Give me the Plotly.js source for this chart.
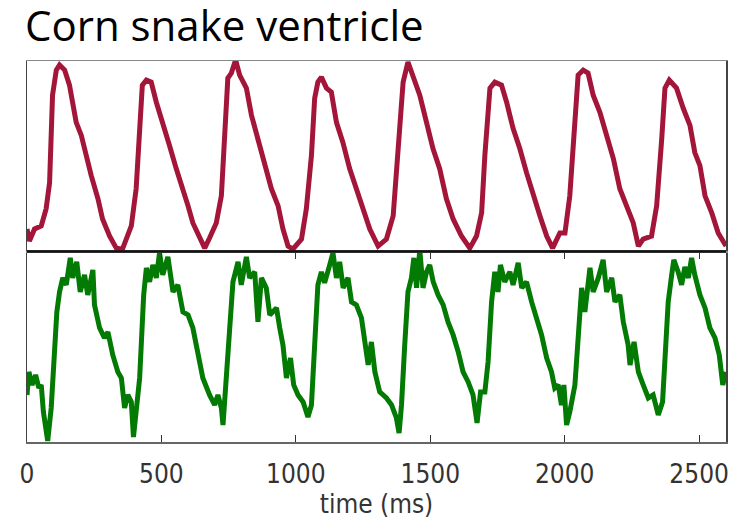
<!DOCTYPE html>
<html>
<head>
<meta charset="utf-8">
<script src="https://cdn.plot.ly/plotly-3.0.1.min.js"></script>
<style>html,body{margin:0;padding:0;background:#fff;}#chart{width:746px;height:519px;}</style>
</head>
<body>
<div id="chart"></div>
<script>
// Red trace (top panel), time in ms and relative amplitude
const redTime = [0,9,28,53,71,84,95,109,121,140,158,169,183,202,220,239,264,281,307,332,355,369,388,406,419,429,444,462,481,505,530,555,580,599,617,642,661,679,704,723,735,747,760,776,791,816,835,859,884,909,934,952,971,989,1021,1039,1058,1070,1082,1095,1114,1132,1151,1175,1200,1225,1250,1275,1306,1337,1362,1380,1399,1417,1436,1461,1486,1510,1535,1560,1585,1616,1647,1672,1691,1703,1722,1740,1765,1784,1808,1833,1858,1883,1908,1933,1955,1982,2001,2019,2032,2050,2069,2087,2106,2131,2156,2181,2205,2230,2255,2274,2292,2323,2342,2361,2373,2389,2416,2441,2466,2484,2503,2522,2547,2571,2600];
const redValue = [22,10,22,25,42,68,155,180,185,180,165,148,128,115,95,75,52,32,15,3,2,12,25,62,128,165,170,168,148,128,105,82,62,45,28,12,3,13,28,55,112,172,177,190,175,162,135,112,88,62,45,22,5,2,12,42,95,152,168,173,162,158,128,108,82,62,42,22,5,12,35,95,168,188,175,155,128,102,82,52,32,15,3,15,38,95,162,168,165,148,122,102,78,55,35,15,3,18,18,55,112,175,180,177,155,138,115,92,62,45,28,5,12,15,45,112,162,170,162,142,125,98,85,55,38,18,5];

// Green trace (bottom panel)
const greenTime = [0,7,19,32,44,53,61,77,90,102,111,121,133,146,161,170,185,198,214,226,245,251,270,288,301,319,338,351,363,375,388,396,406,419,434,444,456,468,481,493,505,524,543,561,580,599,617,636,654,679,698,710,723,729,741,754,766,785,797,816,828,847,859,872,890,903,928,940,952,965,980,992,1008,1027,1045,1058,1070,1082,1095,1107,1126,1138,1151,1163,1176,1194,1207,1225,1244,1256,1269,1281,1294,1312,1337,1356,1374,1384,1393,1405,1417,1430,1439,1449,1461,1473,1486,1498,1511,1529,1548,1566,1585,1604,1622,1641,1659,1674,1687,1703,1715,1728,1740,1752,1761,1777,1796,1808,1827,1840,1858,1877,1895,1914,1933,1951,1963,1976,1988,1997,2007,2019,2038,2050,2063,2075,2094,2106,2125,2143,2156,2175,2187,2205,2218,2236,2243,2258,2274,2292,2311,2329,2348,2364,2373,2385,2398,2406,2422,2435,2447,2460,2472,2484,2503,2522,2540,2559,2575,2588,2600];
const greenValue = [47,70,57,67,54,57,30,1,34,97,130,150,164,157,184,164,180,150,167,147,172,137,114,104,110,87,70,64,34,47,40,5,30,64,147,174,160,177,164,189,167,185,150,157,130,127,114,90,64,47,37,47,34,17,64,130,160,180,157,185,164,170,120,164,154,127,134,114,97,64,84,57,47,40,25,37,97,157,170,159,177,189,164,180,154,164,140,137,124,97,77,100,70,50,44,37,24,9,37,97,150,164,184,154,192,154,170,177,160,147,137,120,107,90,70,60,47,19,50,50,80,140,170,150,177,160,170,157,179,154,160,140,124,107,84,70,54,57,37,57,17,30,57,97,154,130,174,150,164,182,150,164,140,147,120,97,77,100,70,57,44,47,27,40,80,140,167,182,170,157,175,164,184,167,147,134,114,104,87,57,70];

const xTicks = [0,500,1000,1500,2000,2500];
const xTickText = ['0','500','1000','1500','2000','2500'];
const xLabel = 'time (ms)';
const titleText = 'Corn snake ventricle';

const tickFont = {family: '"Liberation Sans Narrow", "DejaVu Sans Condensed", "DejaVu Sans", sans-serif', size: 26, color: '#333'};

const data = [
  {x: redTime, y: redValue, xaxis: 'x2', yaxis: 'y2', type: 'scatter', mode: 'lines',
   line: {color: '#A3163A', width: 5}, hoverinfo: 'skip'},
  {x: greenTime, y: greenValue, xaxis: 'x', yaxis: 'y', type: 'scatter', mode: 'lines',
   line: {color: '#037A03', width: 5}, hoverinfo: 'skip'}
];

const layout = {
  width: 746, height: 519,
  paper_bgcolor: '#fff', plot_bgcolor: '#fff',
  showlegend: false,
  margin: {l: 27, r: 20, t: 61, b: 77},
  title: {text: titleText, font: {family: '"Open Sans", sans-serif', size: 42, color: '#000'},
          x: 25/746, xanchor: 'left', xref: 'container', y: 1 - 26/519, yanchor: 'middle', yref: 'container'},
  xaxis: {domain: [0, 1], range: [0, 2600], anchor: 'y',
          tickvals: xTicks, ticktext: xTickText, ticks: 'inside', ticklen: 7, tickcolor: '#333', tickwidth: 1,
          showline: true, linecolor: '#666', linewidth: 1.5, mirror: 'ticks',
          showgrid: false, zeroline: false, tickfont: tickFont, ticklabelstandoff: 8,
          title: {text: xLabel, font: tickFont, standoff: 2}},
  yaxis: {domain: [0, 0.499], range: [0, 190], anchor: 'x',
          showticklabels: false, ticks: '', showgrid: false, zeroline: false,
          showline: true, linecolor: '#444', linewidth: 1.5, mirror: true},
  xaxis2: {domain: [0, 1], range: [0, 2600], anchor: 'y2', matches: 'x',
           showticklabels: false, ticks: '', showgrid: false, zeroline: false,
           showline: true, linecolor: '#888', linewidth: 1.5, mirror: true},
  yaxis2: {domain: [0.501, 1], range: [0, 189], anchor: 'x2',
           showticklabels: false, ticks: '', showgrid: false, zeroline: false,
           showline: true, linecolor: '#444', linewidth: 1.5, mirror: true},
  shapes: [
    {type: 'line', xref: 'paper', yref: 'paper', x0: 0, x1: 1, y0: 0.5, y1: 0.5,
     line: {color: '#111', width: 2.5}, layer: 'above'}
  ]
};

Plotly.newPlot('chart', data, layout, {displayModeBar: false, staticPlot: true});
</script>
</body>
</html>
